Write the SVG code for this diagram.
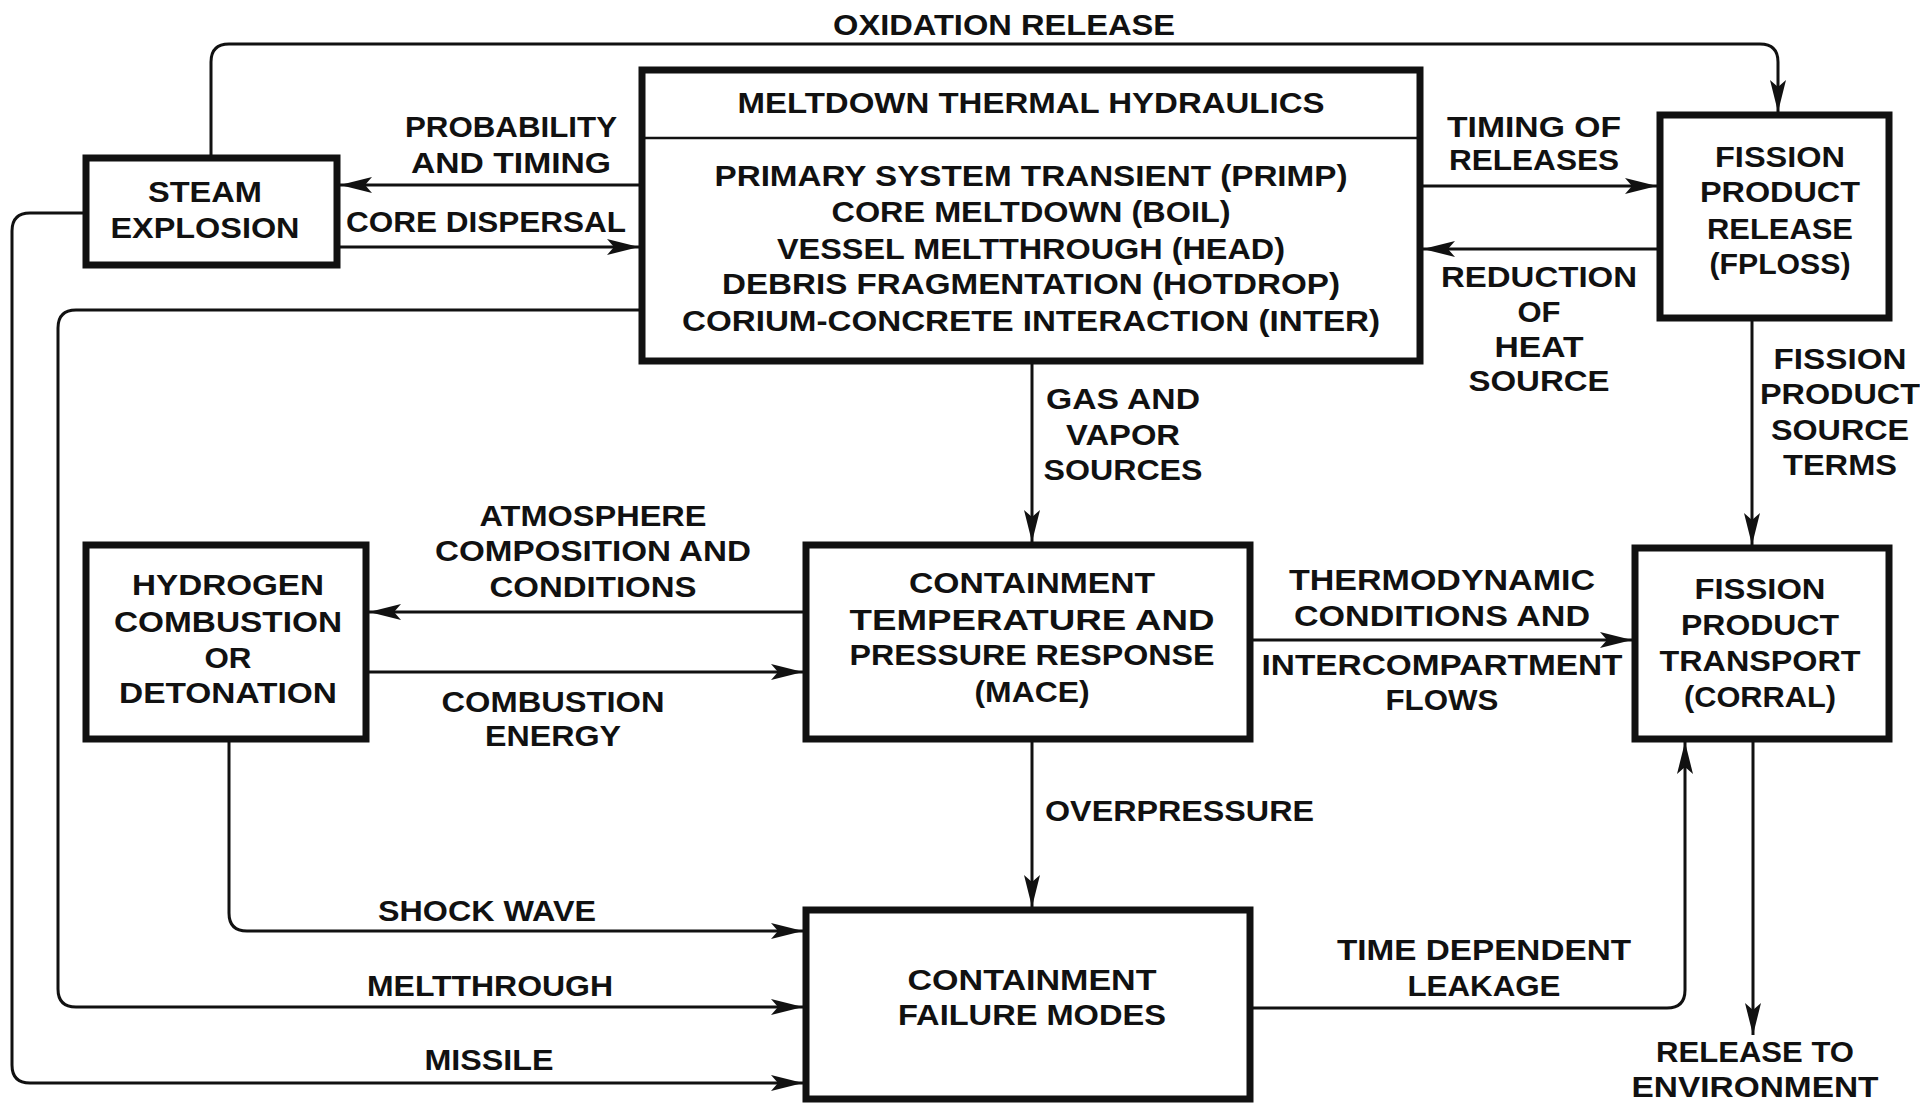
<svg xmlns="http://www.w3.org/2000/svg" width="1920" height="1109" viewBox="0 0 1920 1109">
<defs>
<marker id="ah" markerUnits="userSpaceOnUse" markerWidth="34" markerHeight="20" refX="32" refY="10" orient="auto">
<path d="M0,2 L32,10 L0,18 L7,10 Z" fill="#111"/>
</marker>
<style>
.box{fill:#fff;stroke:#111;stroke-width:7}
.ln{fill:none;stroke:#111;stroke-width:3}
.ar{fill:none;stroke:#111;stroke-width:3;marker-end:url(#ah)}
text{font-family:"Liberation Sans",Arial,sans-serif;font-weight:bold;font-size:29px;fill:#111;text-anchor:middle}
.l{text-anchor:start}
</style>
</defs>
<rect width="1920" height="1109" fill="#fff"/>

<g id="connectors">
<path class="ar" d="M211,155 V62 Q211,44 229,44 H1760 Q1778,44 1778,62 V112"/>
<path class="ar" d="M639,185 H340"/>
<path class="ar" d="M340,247 H639"/>
<path class="ar" d="M1423,186 H1657"/>
<path class="ar" d="M1657,249 H1423"/>
<path class="ar" d="M83,213 H30 Q12,213 12,231 V1065 Q12,1083 30,1083 H803"/>
<path class="ar" d="M639,310 H76 Q58,310 58,328 V989 Q58,1007 76,1007 H803"/>
<path class="ar" d="M229,742 V913 Q229,931 247,931 H803"/>
<path class="ar" d="M1032,364 V542"/>
<path class="ar" d="M803,612 H369"/>
<path class="ar" d="M369,672 H803"/>
<path class="ar" d="M1253,640 H1632"/>
<path class="ar" d="M1752,320 V545"/>
<path class="ar" d="M1032,742 V907"/>
<path class="ar" d="M1253,1008 H1667 Q1685,1008 1685,990 V742"/>
<path class="ar" d="M1753,742 V1035"/>
</g>

<g id="labels">
<text x="1004" y="35" textLength="342" lengthAdjust="spacingAndGlyphs">OXIDATION RELEASE</text>
<text x="511" y="137" textLength="212" lengthAdjust="spacingAndGlyphs">PROBABILITY</text>
<text x="511" y="173" textLength="200" lengthAdjust="spacingAndGlyphs">AND TIMING</text>
<text x="486" y="232" textLength="280" lengthAdjust="spacingAndGlyphs">CORE DISPERSAL</text>
<text x="1534" y="137" textLength="174" lengthAdjust="spacingAndGlyphs">TIMING OF</text>
<text x="1534" y="170" textLength="170" lengthAdjust="spacingAndGlyphs">RELEASES</text>
<text x="1539" y="287" textLength="196" lengthAdjust="spacingAndGlyphs">REDUCTION</text>
<text x="1539" y="322" textLength="43" lengthAdjust="spacingAndGlyphs">OF</text>
<text x="1539" y="357" textLength="89" lengthAdjust="spacingAndGlyphs">HEAT</text>
<text x="1539" y="391" textLength="141" lengthAdjust="spacingAndGlyphs">SOURCE</text>
<text x="1840" y="369" textLength="133" lengthAdjust="spacingAndGlyphs">FISSION</text>
<text x="1840" y="404" textLength="160" lengthAdjust="spacingAndGlyphs">PRODUCT</text>
<text x="1840" y="440" textLength="138" lengthAdjust="spacingAndGlyphs">SOURCE</text>
<text x="1840" y="475" textLength="114" lengthAdjust="spacingAndGlyphs">TERMS</text>
<text x="1123" y="409" textLength="154" lengthAdjust="spacingAndGlyphs">GAS AND</text>
<text x="1123" y="445" textLength="114" lengthAdjust="spacingAndGlyphs">VAPOR</text>
<text x="1123" y="480" textLength="159" lengthAdjust="spacingAndGlyphs">SOURCES</text>
<text x="593" y="526" textLength="227" lengthAdjust="spacingAndGlyphs">ATMOSPHERE</text>
<text x="593" y="561" textLength="316" lengthAdjust="spacingAndGlyphs">COMPOSITION AND</text>
<text x="593" y="597" textLength="207" lengthAdjust="spacingAndGlyphs">CONDITIONS</text>
<text x="553" y="712" textLength="223" lengthAdjust="spacingAndGlyphs">COMBUSTION</text>
<text x="553" y="746" textLength="136" lengthAdjust="spacingAndGlyphs">ENERGY</text>
<text x="1442" y="590" textLength="306" lengthAdjust="spacingAndGlyphs">THERMODYNAMIC</text>
<text x="1442" y="626" textLength="296" lengthAdjust="spacingAndGlyphs">CONDITIONS AND</text>
<text x="1442" y="675" textLength="361" lengthAdjust="spacingAndGlyphs">INTERCOMPARTMENT</text>
<text x="1442" y="710" textLength="113" lengthAdjust="spacingAndGlyphs">FLOWS</text>
<text class="l" x="1045" y="821" textLength="269" lengthAdjust="spacingAndGlyphs">OVERPRESSURE</text>
<text x="487" y="921" textLength="218" lengthAdjust="spacingAndGlyphs">SHOCK WAVE</text>
<text x="490" y="996" textLength="246" lengthAdjust="spacingAndGlyphs">MELTTHROUGH</text>
<text x="489" y="1070" textLength="129" lengthAdjust="spacingAndGlyphs">MISSILE</text>
<text x="1484" y="960" textLength="294" lengthAdjust="spacingAndGlyphs">TIME DEPENDENT</text>
<text x="1484" y="996" textLength="153" lengthAdjust="spacingAndGlyphs">LEAKAGE</text>
<text x="1755" y="1062" textLength="198" lengthAdjust="spacingAndGlyphs">RELEASE TO</text>
<text x="1755" y="1097" textLength="247" lengthAdjust="spacingAndGlyphs">ENVIRONMENT</text>
</g>

<g id="steam-explosion">
<rect class="box" x="86" y="158" width="251" height="107"/>
<text x="205" y="202" textLength="114" lengthAdjust="spacingAndGlyphs">STEAM</text>
<text x="205" y="238" textLength="189" lengthAdjust="spacingAndGlyphs">EXPLOSION</text>
</g>

<g id="meltdown-thermal-hydraulics">
<rect class="box" x="642" y="70" width="778" height="291"/>
<line x1="642" y1="138" x2="1420" y2="138" stroke="#111" stroke-width="2.5"/>
<text x="1031" y="113" textLength="587" lengthAdjust="spacingAndGlyphs">MELTDOWN THERMAL HYDRAULICS</text>
<text x="1031" y="186" textLength="633" lengthAdjust="spacingAndGlyphs">PRIMARY SYSTEM TRANSIENT (PRIMP)</text>
<text x="1031" y="222" textLength="399" lengthAdjust="spacingAndGlyphs">CORE MELTDOWN (BOIL)</text>
<text x="1031" y="259" textLength="508" lengthAdjust="spacingAndGlyphs">VESSEL MELTTHROUGH (HEAD)</text>
<text x="1031" y="294" textLength="618" lengthAdjust="spacingAndGlyphs">DEBRIS FRAGMENTATION (HOTDROP)</text>
<text x="1031" y="331" textLength="698" lengthAdjust="spacingAndGlyphs">CORIUM-CONCRETE INTERACTION (INTER)</text>
</g>

<g id="fission-product-release">
<rect class="box" x="1660" y="115" width="229" height="203"/>
<text x="1780" y="167" textLength="130" lengthAdjust="spacingAndGlyphs">FISSION</text>
<text x="1780" y="202" textLength="160" lengthAdjust="spacingAndGlyphs">PRODUCT</text>
<text x="1780" y="239" textLength="146" lengthAdjust="spacingAndGlyphs">RELEASE</text>
<text x="1780" y="274" textLength="141" lengthAdjust="spacingAndGlyphs">(FPLOSS)</text>
</g>

<g id="hydrogen-combustion">
<rect class="box" x="86" y="545" width="280" height="194"/>
<text x="228" y="595" textLength="192" lengthAdjust="spacingAndGlyphs">HYDROGEN</text>
<text x="228" y="632" textLength="228" lengthAdjust="spacingAndGlyphs">COMBUSTION</text>
<text x="228" y="668" textLength="47" lengthAdjust="spacingAndGlyphs">OR</text>
<text x="228" y="703" textLength="218" lengthAdjust="spacingAndGlyphs">DETONATION</text>
</g>

<g id="containment-response">
<rect class="box" x="806" y="545" width="444" height="194"/>
<text x="1032" y="593" textLength="246" lengthAdjust="spacingAndGlyphs">CONTAINMENT</text>
<text x="1032" y="630" textLength="365" lengthAdjust="spacingAndGlyphs">TEMPERATURE AND</text>
<text x="1032" y="665" textLength="365" lengthAdjust="spacingAndGlyphs">PRESSURE RESPONSE</text>
<text x="1032" y="702" textLength="115" lengthAdjust="spacingAndGlyphs">(MACE)</text>
</g>

<g id="fission-product-transport">
<rect class="box" x="1635" y="548" width="254" height="191"/>
<text x="1760" y="599" textLength="131" lengthAdjust="spacingAndGlyphs">FISSION</text>
<text x="1760" y="635" textLength="158" lengthAdjust="spacingAndGlyphs">PRODUCT</text>
<text x="1760" y="671" textLength="201" lengthAdjust="spacingAndGlyphs">TRANSPORT</text>
<text x="1760" y="707" textLength="152" lengthAdjust="spacingAndGlyphs">(CORRAL)</text>
</g>

<g id="containment-failure-modes">
<rect class="box" x="806" y="910" width="444" height="189"/>
<text x="1032" y="990" textLength="249" lengthAdjust="spacingAndGlyphs">CONTAINMENT</text>
<text x="1032" y="1025" textLength="268" lengthAdjust="spacingAndGlyphs">FAILURE MODES</text>
</g>
</svg>
